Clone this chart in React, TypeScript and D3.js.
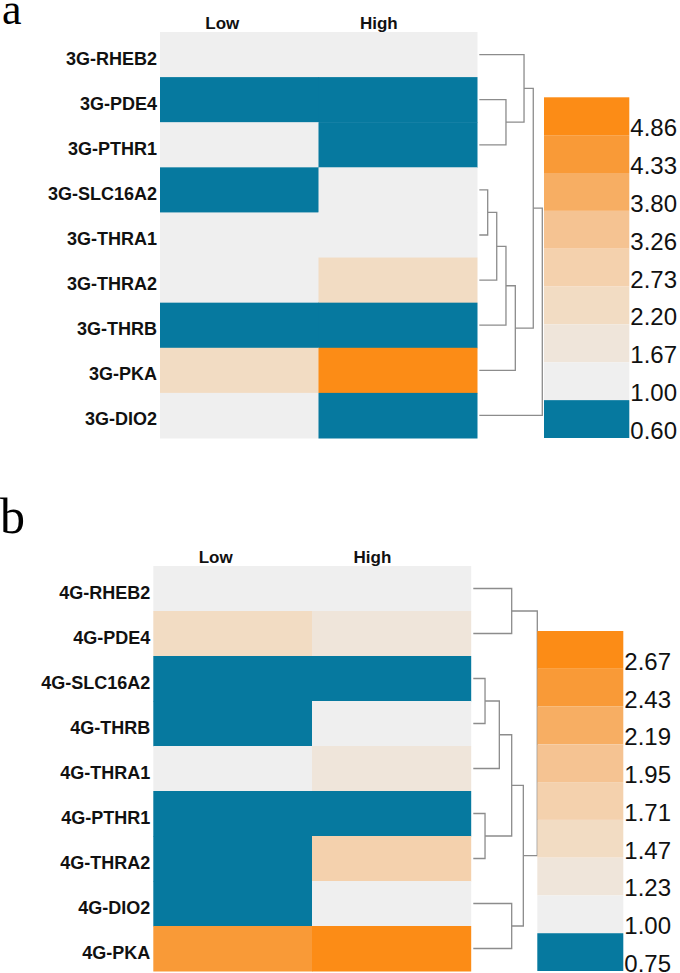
import React from "react";
import * as d3 from "d3";

// ---------- data ----------
const columns = ["Low", "High"];

const rowsA = ["3G-RHEB2", "3G-PDE4", "3G-PTHR1", "3G-SLC16A2", "3G-THRA1", "3G-THRA2", "3G-THRB", "3G-PKA", "3G-DIO2"];
const lowA = [1.0, 0.6, 1.0, 0.6, 1.0, 1.0, 0.6, 2.35, 1.0];
const highA = [1.0, 0.6, 0.6, 1.0, 1.0, 2.35, 0.6, 4.9, 0.6];
const breaksA = [0.6, 1.0, 1.67, 2.2, 2.73, 3.26, 3.8, 4.33, 4.86];
const breakLabelsA = ["0.60", "1.00", "1.67", "2.20", "2.73", "3.26", "3.80", "4.33", "4.86"];
const treeA: [string, string, number][] = [
  ["3G-SLC16A2", "3G-THRA1", 0.8],
  ["m1", "3G-THRA2", 1.66],
  ["3G-PDE4", "3G-PTHR1", 2.54],
  ["m2", "3G-THRB", 2.54],
  ["m4", "3G-PKA", 3.43],
  ["3G-RHEB2", "m3", 4.26],
  ["m6", "m5", 5.14],
  ["m7", "3G-DIO2", 6.0],
];

const rowsB = ["4G-RHEB2", "4G-PDE4", "4G-SLC16A2", "4G-THRB", "4G-THRA1", "4G-PTHR1", "4G-THRA2", "4G-DIO2", "4G-PKA"];
const lowB = [1.0, 1.55, 0.8, 0.8, 1.0, 0.8, 0.8, 0.8, 2.5];
const highB = [1.0, 1.3, 0.8, 1.0, 1.3, 0.8, 1.8, 1.0, 2.7];
const breaksB = [0.75, 1.0, 1.23, 1.47, 1.71, 1.95, 2.19, 2.43, 2.67];
const breakLabelsB = ["0.75", "1.00", "1.23", "1.47", "1.71", "1.95", "2.19", "2.43", "2.67"];
const treeB: [string, string, number][] = [
  ["4G-SLC16A2", "4G-THRB", 1.1],
  ["4G-PTHR1", "4G-THRA2", 1.1],
  ["m1", "4G-THRA1", 2.44],
  ["4G-RHEB2", "4G-PDE4", 3.6],
  ["m3", "m2", 3.6],
  ["4G-DIO2", "4G-PKA", 3.6],
  ["m5", "m6", 4.69],
  ["m4", "m7", 6.0],
];

// bottom (lowest) to top (highest)
const palette = ["#06799F", "#EFEFEF", "#EFE5DA", "#F2DCC3", "#F4D1AD", "#F5C392", "#F7AE63", "#F99A37", "#FC8C16"];

const SANS = "'Liberation Sans', Arial, Helvetica, sans-serif";
const SERIF = "'Liberation Serif', 'Times New Roman', serif";

type PanelProps = {
  letter: string;
  letterX: number;
  letterY: number;
  letterSize: number;
  rows: string[];
  low: number[];
  high: number[];
  breaks: number[];
  breakLabels: string[];
  tree: [string, string, number][];
  hx0: number;
  hx1: number;
  hy0: number;
  hy1: number;
  dx0: number;
  dx1: number;
  lx0: number;
  lx1: number;
  ly0: number;
  ly1: number;
};

function Panel(p: PanelProps) {
  const x = d3.scaleBand<string>().domain(columns).range([p.hx0, p.hx1]);
  const y = d3.scaleBand<string>().domain(p.rows).range([p.hy0, p.hy1]);
  const color = d3.scaleThreshold<number, string>().domain(p.breaks.slice(1)).range(palette);
  const maxH = d3.max(p.tree, (d) => d[2]) as number;
  const hx = d3.scaleLinear().domain([0, maxH]).range([p.dx0, p.dx1]);

  // dendrogram nodes
  const pos: Record<string, { x: number; y: number }> = {};
  p.rows.forEach((r) => {
    pos[r] = { x: hx(0), y: (y(r) as number) + y.bandwidth() / 2 };
  });
  const paths: string[] = [];
  p.tree.forEach((m, i) => {
    const a = pos[m[0]];
    const b = pos[m[1]];
    const nx = hx(m[2]);
    const ny = (a.y + b.y) / 2;
    paths.push(`M${a.x},${a.y}H${nx}V${b.y}H${b.x}`);
    pos["m" + (i + 1)] = { x: nx, y: ny };
  });

  // legend
  const legendKeys = p.breakLabels.slice().reverse();
  const ly = d3.scaleBand<string>().domain(legendKeys).range([p.ly0, p.ly1]);
  const legendColors = palette.slice().reverse();

  const cells: { r: string; c: string; v: number }[] = [];
  p.rows.forEach((r, i) => {
    cells.push({ r, c: columns[0], v: p.low[i] });
    cells.push({ r, c: columns[1], v: p.high[i] });
  });

  return (
    <g>
      <text x={p.letterX} y={p.letterY} fontFamily={SERIF} fontSize={p.letterSize} fill="#000">
        {p.letter}
      </text>
      {cells.map((d, i) => (
        <rect
          key={i}
          x={x(d.c)}
          y={y(d.r)}
          width={x.bandwidth() + 0.5}
          height={y.bandwidth() + 0.5}
          fill={color(d.v)}
        />
      ))}
      {columns.map((c) => (
        <text
          key={c}
          x={(x(c) as number) + x.bandwidth() / 2}
          y={p.hy0 - 3}
          textAnchor="end"
          fontFamily={SANS}
          fontWeight="bold"
          fontSize={17}
          fill="#111"
        >
          {c}
        </text>
      ))}
      {p.rows.map((r) => (
        <text
          key={r}
          x={p.hx0 - 3}
          y={(y(r) as number) + y.bandwidth() / 2 + 10}
          textAnchor="end"
          fontFamily={SANS}
          fontWeight="bold"
          fontSize={18}
          fill="#111"
        >
          {r}
        </text>
      ))}
      {paths.map((d, i) => (
        <path key={i} d={d} fill="none" stroke="#8c8c8c" strokeWidth={1.3} />
      ))}
      {legendKeys.map((k, i) => (
        <g key={k}>
          <rect x={p.lx0} y={ly(k)} width={p.lx1 - p.lx0} height={ly.bandwidth()} fill={legendColors[i]} />
          <text
            x={p.lx1 + 1}
            y={(ly(k) as number) + ly.bandwidth() + 1}
            fontFamily={SANS}
            fontSize={24}
            fill="#111"
          >
            {k}
          </text>
        </g>
      ))}
    </g>
  );
}

export default function App() {
  return (
    <svg
      width={680}
      height={973}
      style={{ position: "absolute", left: 0, top: 0, background: "#fff" }}
    >
      <rect x={0} y={0} width={680} height={973} fill="#fff" />
      <Panel
        letter="a"
        letterX={2}
        letterY={24}
        letterSize={44}
        rows={rowsA}
        low={lowA}
        high={highA}
        breaks={breaksA}
        breakLabels={breakLabelsA}
        tree={treeA}
        hx0={160}
        hx1={477}
        hy0={32}
        hy1={438}
        dx0={479.3}
        dx1={542.3}
        lx0={544}
        lx1={629.3}
        ly0={97.3}
        ly1={438}
      />
      <Panel
        letter="b"
        letterX={0}
        letterY={533}
        letterSize={50}
        rows={rowsB}
        low={lowB}
        high={highB}
        breaks={breaksB}
        breakLabels={breakLabelsB}
        tree={treeB}
        hx0={153.3}
        hx1={470.7}
        hy0={566}
        hy1={971}
        dx0={473.3}
        dx1={537.3}
        lx0={537.3}
        lx1={623.3}
        ly0={631}
        ly1={971}
      />
    </svg>
  );
}
